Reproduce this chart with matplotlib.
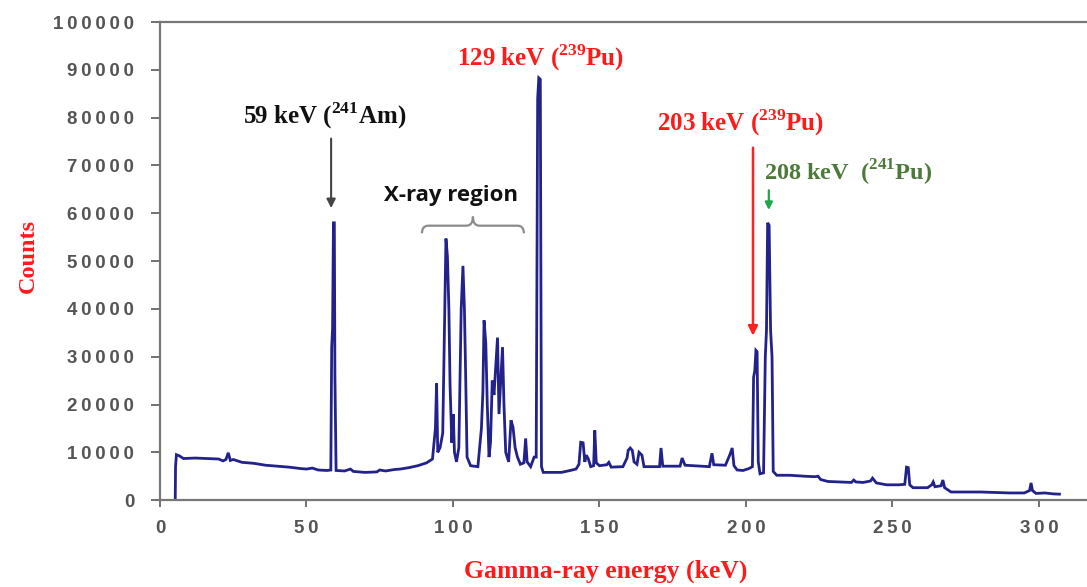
import matplotlib
matplotlib.use("Agg")
import matplotlib.pyplot as plt
from matplotlib.path import Path
from matplotlib.patches import PathPatch

# spectrum points (keV, counts)
energy_kev = [
    5.2, 5.3, 5.6, 6.5, 8, 12, 16, 20, 21.5, 22.5, 23.3, 24, 25, 26.5, 28, 32, 36, 40,
    44, 48, 50, 52, 54, 57, 58.3, 58.6, 58.9, 59.2, 59.5, 59.7, 60.1, 63, 65, 66, 70,
    74, 75, 77, 80, 82, 85, 88, 91, 93, 94, 94.4, 94.8, 95.6, 96.5, 97.6, 98.1, 98.6,
    99.0, 99.6, 100.1, 100.5, 101.2, 102.0, 102.8, 103.4, 103.9, 104.3, 104.8, 106,
    108.5, 109.7, 110.2, 110.6, 111.2, 111.7, 112.3, 112.8, 113.4, 114, 114.6, 115.2,
    115.7, 116.3, 116.9, 117.4, 118, 119, 119.8, 120.5, 121.2, 122, 123, 124.2, 124.8,
    125.3, 126.5, 127.7, 128.4, 128.9, 129.3, 129.8, 130.2, 130.8, 137, 140, 142, 143,
    143.6, 144.4, 145.0, 145.5, 146.2, 147.0, 148.0, 148.4, 148.9, 150, 152.5, 153.2,
    154, 158, 159.4, 159.8, 160.5, 161.2, 161.8, 162.8, 163.5, 164.5, 165.2, 170.5,
    171.0, 171.6, 177.5, 178.2, 179.2, 187.5, 188.4, 189, 193, 194.5, 195.3, 195.9,
    197, 199, 201, 202.2, 202.6, 203.0, 203.4, 203.8, 204.2, 204.8, 206, 206.6, 207.0,
    207.4, 207.9, 208.4, 208.9, 209.3, 210.5, 215, 220, 223.5, 224.6, 225.5, 228, 232,
    236, 236.8, 237.5, 240, 242.5, 243.2, 244.5, 248, 252, 254.2, 254.8, 255.4, 255.9,
    257, 262, 263.4, 263.9, 264.5, 266.6, 267.2, 267.8, 270, 280, 285, 290, 295, 296.8,
    297.3, 297.8, 299, 302, 305, 307,
]
counts = [
    0, 7000, 9500, 9300, 8700, 8800, 8700, 8600, 8200, 8500, 9900, 8300, 8500, 8200,
    7900, 7700, 7300, 7100, 6900, 6600, 6500, 6700, 6300, 6200, 6300, 32000, 36000,
    58000, 58000, 26000, 6200, 6100, 6500, 6000, 5800, 5900, 6300, 6100, 6400, 6500,
    6800, 7200, 7800, 8600, 15000, 24400, 10000, 11000, 14000, 54700, 51000, 40000,
    24000, 12000, 18000, 10000, 8000, 11000, 40000, 49000, 40000, 27000, 9000, 7200,
    7000, 15000, 22500, 37600, 32800, 20000, 9000, 12000, 25000, 22000, 28000, 34000,
    18000, 25000, 32000, 20000, 10000, 8000, 16700, 15200, 11000, 9000, 7500, 7800,
    12900, 8000, 7000, 9000, 9000, 84000, 88300, 88000, 7000, 5800, 5800, 6200, 6500,
    7500, 12100, 12000, 8000, 9400, 8600, 7000, 7200, 14600, 7800, 7200, 7400, 7900,
    6900, 7000, 8800, 10400, 10900, 10400, 8000, 7500, 10000, 9400, 7000, 7000, 10900,
    7100, 7100, 8800, 7300, 7000, 9800, 7400, 7300, 9500, 10900, 7200, 6300, 6200, 6600,
    7000, 25700, 27000, 31300, 31000, 8000, 5500, 5700, 30000, 35500, 58000, 57500,
    35500, 29900, 6000, 5200, 5200, 5000, 4900, 5000, 4300, 3900, 3800, 3700, 4200,
    3800, 3700, 4000, 4600, 3600, 3200, 3200, 3300, 6900, 6800, 3200, 2600, 2600, 3200,
    3800, 2800, 3000, 4200, 2600, 1700, 1700, 1600, 1500, 1500, 2000, 3600, 2000, 1400,
    1500, 1300, 1250,
]

x_ticks = [0, 50, 100, 150, 200, 250, 300]
y_ticks = list(range(0, 100001, 10000))

plt.rcParams["mathtext.fontset"] = "custom"
plt.rcParams["mathtext.rm"] = "Liberation Serif:bold"

SERIF = ["Liberation Serif", "DejaVu Serif"]
TICKFONT = ["Liberation Sans", "DejaVu Sans"]
RED = "#ff1a1a"

fig = plt.figure(figsize=(10.87, 5.87), dpi=100)
ax = fig.add_axes([0.1472, 0.148, 0.8528, 0.8145])

ax.plot(energy_kev, counts, color="#22228a", lw=2.0, solid_joinstyle="miter")

ax.set_xlim(0, 316.4)
ax.set_ylim(0, 100000)

# spaced-out tick labels
ax.set_xticks(x_ticks)
ax.set_xticklabels(["\u2009".join(str(v)) for v in x_ticks])
ax.set_yticks(y_ticks)
ax.set_yticklabels(["\u2009".join(str(v)) for v in y_ticks])
for lab in ax.get_xticklabels() + ax.get_yticklabels():
    lab.set_family(TICKFONT)
    lab.set_fontsize(13.5)
    lab.set_fontweight("bold")
    lab.set_color("#555555")
ax.tick_params(axis="y", direction="out", length=6.5, width=1.3, color="#666666", pad=12)
ax.tick_params(axis="x", direction="out", length=5, width=1.3, color="#666666", pad=9)

for side in ["left", "bottom", "top"]:
    ax.spines[side].set_color("#777777")
    ax.spines[side].set_linewidth(1.6)
ax.spines["right"].set_visible(False)

ax.set_xlabel("Gamma-ray energy (keV)", family=SERIF, fontweight="bold",
              fontsize=18.5, color=RED)
ax.xaxis.set_label_coords(0.481, -0.124)
ax.set_ylabel("Counts", family=SERIF, fontweight="bold", fontsize=17.5, color=RED)
ax.yaxis.set_label_coords(-0.131, 0.51)

# peak labels
ax.text(56.3, 80400, r"59 keV ($^{\mathrm{241}}$Am)", family=SERIF, fontweight="bold",
        fontsize=18, color="#111111", ha="center", va="center")
ax.text(130, 92500, r"129 keV ($^{\mathrm{239}}$Pu)", family=SERIF, fontweight="bold",
        fontsize=18, color=RED, ha="center", va="center")
ax.text(198, 78900, r"203 keV ($^{\mathrm{239}}$Pu)", family=SERIF, fontweight="bold",
        fontsize=18, color=RED, ha="center", va="center")
ax.text(235, 68500, r"208 keV  ($^{\mathrm{241}}$Pu)", family=SERIF, fontweight="bold",
        fontsize=17.5, color="#4d7a3a", ha="center", va="center")
ax.text(99.3, 63700, "X-ray region", family=["Open Sans", "DejaVu Sans"],
        fontweight="bold", fontsize=16, color="#111111", ha="center", va="center")

# arrows
ax.annotate("", xy=(58.4, 60500), xytext=(58.4, 76200),
            arrowprops=dict(arrowstyle="-|>", color="#444444", lw=1.5, mutation_scale=13))
ax.annotate("", xy=(202.4, 33800), xytext=(202.4, 74300),
            arrowprops=dict(arrowstyle="-|>", color="#ff2020", lw=1.8, mutation_scale=14))
ax.annotate("", xy=(207.8, 60100), xytext=(207.8, 65400),
            arrowprops=dict(arrowstyle="-|>", color="#1fa64a", lw=1.6, mutation_scale=11))

# curly brace over the X-ray region
x0, x1, xm = 89.4, 124.2, 106.8
y_end, y_flat, y_tip = 55800, 57400, 59300
brace = Path(
    [(x0, y_end), (x0, y_flat), (x0 + 2.2, y_flat),
     (xm - 2.2, y_flat), (xm, y_flat), (xm, y_tip),
     (xm, y_flat), (xm + 2.2, y_flat),
     (x1 - 2.2, y_flat), (x1, y_flat), (x1, y_end)],
    [Path.MOVETO, Path.CURVE3, Path.CURVE3,
     Path.LINETO, Path.CURVE3, Path.CURVE3,
     Path.CURVE3, Path.CURVE3,
     Path.LINETO, Path.CURVE3, Path.CURVE3],
)
ax.add_patch(PathPatch(brace, facecolor="none", edgecolor="#8c8c8c", lw=1.6))

fig.savefig("out.png", dpi=100)
